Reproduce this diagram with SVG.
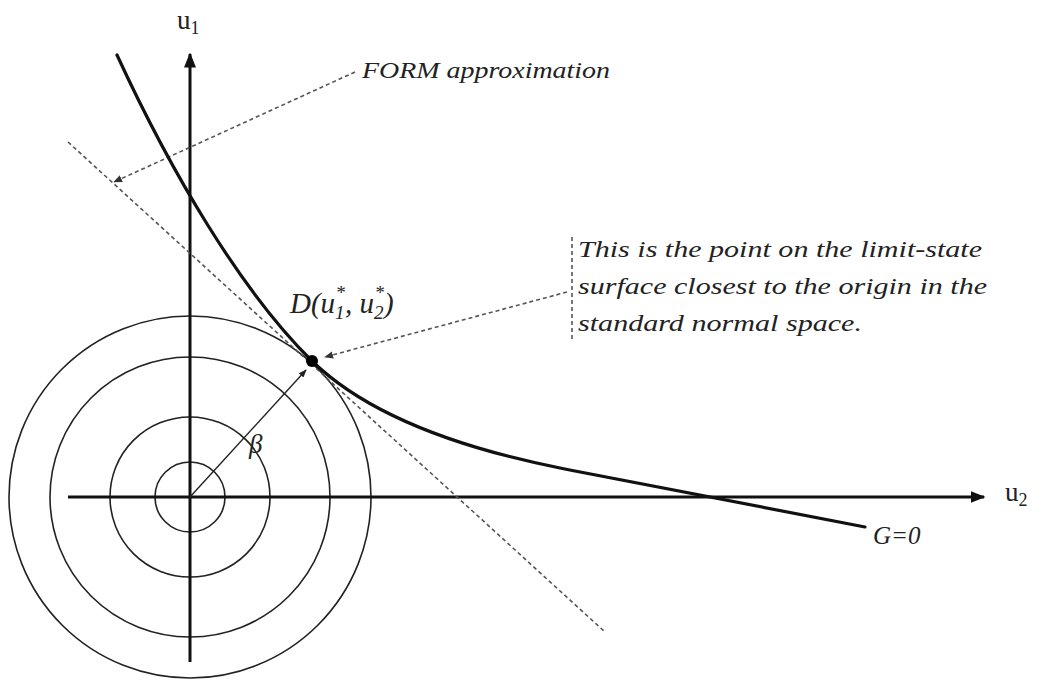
<svg xmlns="http://www.w3.org/2000/svg" width="1049" height="682" viewBox="0 0 1049 682">
<style>
.axis{stroke:#111;stroke-width:3;fill:none}
.circ{stroke:#222;stroke-width:1.6;fill:none}
.curve{stroke:#111;stroke-width:3.2;fill:none;stroke-linecap:round}
.dash{stroke:#555;stroke-width:1.6;fill:none;stroke-dasharray:4 3}
.lbl{font-family:"Liberation Serif","Times New Roman",serif;fill:#222}
.it{font-style:italic}
</style>
<defs>
<marker id="ah" viewBox="0 0 10 10" refX="9" refY="5" markerWidth="5" markerHeight="5" orient="auto" markerUnits="strokeWidth"><path d="M0,1 L10,5 L0,9 z" fill="#111"/></marker>
<marker id="ahd" viewBox="0 0 10 10" refX="9" refY="5" markerWidth="9" markerHeight="9" orient="auto" markerUnits="userSpaceOnUse"><path d="M0,1 L10,5 L0,9 z" fill="#333"/></marker>
<marker id="ahb" viewBox="0 0 10 10" refX="9" refY="5" markerWidth="8" markerHeight="8" orient="auto" markerUnits="userSpaceOnUse"><path d="M0,1 L10,5 L0,9 z" fill="#222"/></marker>
</defs>
<rect width="1049" height="682" fill="#fff"/>
<g id="circles">
<circle class="circ" cx="190" cy="497" r="35"/>
<circle class="circ" cx="190" cy="497" r="80"/>
<circle class="circ" cx="190" cy="497" r="140"/>
<circle class="circ" cx="190" cy="497" r="181"/>
</g>
<g id="axes">
<line class="axis" x1="190" y1="662" x2="190" y2="54" marker-end="url(#ah)"/>
<line class="axis" x1="68" y1="497" x2="984" y2="497" marker-end="url(#ah)"/>
</g>
<g id="connectors">
<line class="dash" x1="68" y1="142" x2="605" y2="632"/>
<line class="dash" x1="355" y1="72" x2="114" y2="182" marker-end="url(#ahd)"/>
<line class="dash" x1="567" y1="292" x2="325" y2="357" marker-end="url(#ahd)"/>
<line class="dash" x1="572" y1="237" x2="572" y2="342"/>
<line stroke="#222" stroke-width="1.4" x1="190" y1="497" x2="306" y2="370" marker-end="url(#ahb)"/>
</g>
<g id="curve">
<path class="curve" d="M117,55 C170,170 240,290 312,361 C350,398 420,440 560,468 C660,488 760,507 865,527"/>
</g>
<g id="pointD">
<circle cx="312" cy="361" r="6" fill="#000"/>
</g>
<g id="labels">
<text class="lbl" x="177" y="29" font-size="27">u<tspan font-size="18" dy="5">1</tspan></text>
<text class="lbl" x="1005" y="501" font-size="27">u<tspan font-size="18" dy="5">2</tspan></text>
<text class="lbl it" x="362" y="78" font-size="24" textLength="248" lengthAdjust="spacingAndGlyphs">FORM approximation</text>
<text class="lbl it" x="290" y="313" font-size="29">D(u<tspan font-size="19" dy="6">1</tspan><tspan font-size="19" dx="-9" dy="-20">*</tspan><tspan dy="14">, u</tspan><tspan font-size="19" dy="6">2</tspan><tspan font-size="19" dx="-9" dy="-20">*</tspan><tspan dy="14">)</tspan></text>
<text class="lbl it" x="249" y="453" font-size="27">β</text>
<text class="lbl it" x="873" y="544" font-size="25">G=0</text>
<text class="lbl it" x="578" y="257" font-size="24" textLength="404" lengthAdjust="spacingAndGlyphs">This is the point on the limit-state</text>
<text class="lbl it" x="578" y="294" font-size="24" textLength="409" lengthAdjust="spacingAndGlyphs">surface closest to the origin in the</text>
<text class="lbl it" x="578" y="331" font-size="24" textLength="284" lengthAdjust="spacingAndGlyphs">standard normal space.</text>
</g>
</svg>
